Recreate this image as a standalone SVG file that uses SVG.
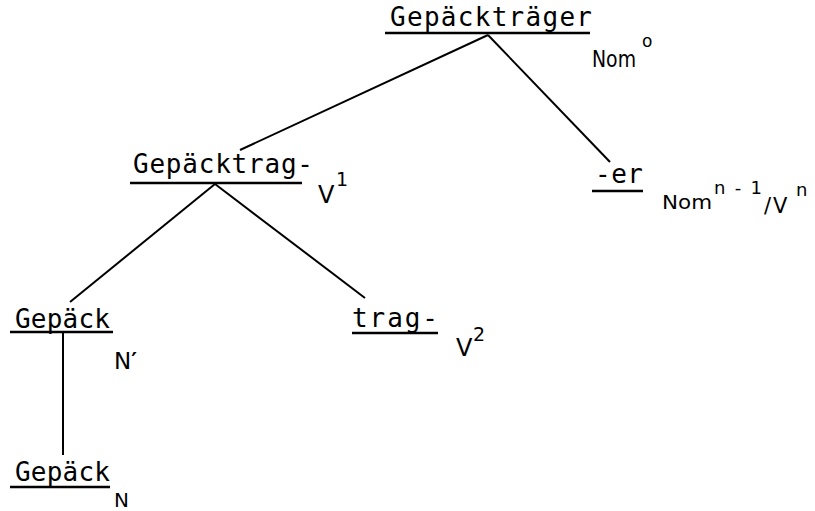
<svg xmlns="http://www.w3.org/2000/svg" width="815" height="511" viewBox="0 0 815 511">
<style>
.w{font-family:"DejaVu Sans Mono","Liberation Mono",monospace;font-size:26px;fill:#000}
.l{font-family:"DejaVu Sans","Liberation Sans",sans-serif;fill:#000}
.u{stroke:#000;stroke-width:2.5}
.c{stroke:#000;stroke-width:2;fill:none}
</style>
<rect width="815" height="511" fill="#fff"/>
<g id="connectors">
<line class="c" x1="488" y1="35" x2="240" y2="150"/>
<line class="c" x1="488" y1="35" x2="610" y2="162"/>
<line class="c" x1="215" y1="184" x2="70" y2="302"/>
<line class="c" x1="215" y1="184" x2="365" y2="298"/>
<line class="c" x1="63" y1="333" x2="63" y2="455"/>
</g>
<g id="n-root">
<text class="w" x="390" y="26" textLength="202" lengthAdjust="spacing">Gepäckträger</text>
<line class="u" x1="385" y1="33" x2="590" y2="33"/>
<text class="l" x="592" y="67" font-size="23" textLength="44" lengthAdjust="spacingAndGlyphs">Nom</text>
<text class="l" x="642" y="47" font-size="17">o</text>
</g>
<g id="n-gepaecktrag">
<text class="w" x="133" y="173" textLength="180" lengthAdjust="spacing">Gepäcktrag-</text>
<line class="u" x1="130" y1="183" x2="302" y2="183"/>
<text class="l" x="318" y="203" font-size="24">V</text>
<text class="l" x="336" y="186" font-size="19">1</text>
</g>
<g id="n-er">
<text class="w" x="595" y="183" textLength="48" lengthAdjust="spacing">-er</text>
<line class="u" x1="592" y1="191" x2="643" y2="191"/>
<text class="l" x="662" y="209" font-size="20" textLength="50" lengthAdjust="spacingAndGlyphs">Nom</text>
<text class="l" x="714" y="194" font-size="18" textLength="48" lengthAdjust="spacing">n-1</text>
<text class="l" x="764" y="213" font-size="21">/</text>
<text class="l" x="773" y="213" font-size="21">V</text>
<text class="l" x="796" y="196" font-size="18">n</text>
</g>
<g id="n-gepaeck">
<text class="w" x="15" y="328" textLength="95" lengthAdjust="spacing">Gepäck</text>
<line class="u" x1="10" y1="332" x2="113" y2="332"/>
<text class="l" x="114" y="369" font-size="23">N<tspan font-size="22" font-weight="bold" dy="-1">′</tspan></text>
</g>
<g id="n-trag">
<text class="w" x="352" y="327" textLength="86" lengthAdjust="spacing">trag-</text>
<line class="u" x1="352" y1="333" x2="438" y2="333"/>
<text class="l" x="456" y="356" font-size="24">V</text>
<text class="l" x="473" y="341" font-size="19">2</text>
</g>
<g id="n-gepaeck-n">
<text class="w" x="15" y="481" textLength="95" lengthAdjust="spacing">Gepäck</text>
<line class="u" x1="10" y1="487" x2="110" y2="487"/>
<text class="l" x="114" y="507" font-size="20">N</text>
</g>
</svg>
